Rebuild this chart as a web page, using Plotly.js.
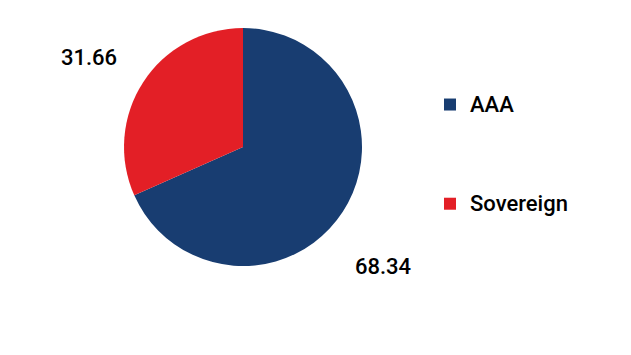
<!DOCTYPE html>
<html><head><meta charset="utf-8">
<script src="https://cdn.plot.ly/plotly-3.0.1.min.js"></script>
<style>html,body{margin:0;padding:0;background:#fff}</style>
</head><body><div id="chart" style="width:631px;height:355px"></div>
<script>
const categories = ["AAA", "Sovereign"];
const values = [68.34, 31.66];
const colors = ["#183d71", "#e31f26"];
const labelPos = [[383, 266], [89, 57]];

const W = 631, H = 355;
const trace = {
  type: "pie",
  labels: categories.map(c => "<span style='font-size:22px'>" + c + "</span><br> <br> <br> "),
  values: values,
  marker: {colors: colors, line: {width: 0}},
  sort: false,
  direction: "clockwise",
  rotation: 0,
  textinfo: "none",
  hoverinfo: "value",
  domain: {x: [122/W, 364/W], y: [1-266/H, 1-28/H]}
};
const layout = {
  width: W, height: H,
  margin: {l: 0, r: 0, t: 0, b: 0},
  paper_bgcolor: "#fff",
  font: {family: "Roboto, sans-serif", size: 22, color: "#000"},
  showlegend: true,
  legend: {x: 430/W, y: 1-86/H, xanchor: "left", yanchor: "top", valign: "top",
           font: {family: "Roboto, sans-serif", size: 18.5, color: "#000", weight: 500}, itemwidth: 30},
  annotations: values.map((v, i) => ({
    xref: "paper", yref: "paper",
    x: labelPos[i][0]/W, y: 1-labelPos[i][1]/H,
    xanchor: "center", yanchor: "middle",
    text: v.toFixed(2), showarrow: false,
    font: {family: "Roboto, sans-serif", size: 22, color: "#000", weight: 500}
  }))
};
Plotly.newPlot("chart", [trace], layout, {displayModeBar: false, staticPlot: true});
</script></body></html>
